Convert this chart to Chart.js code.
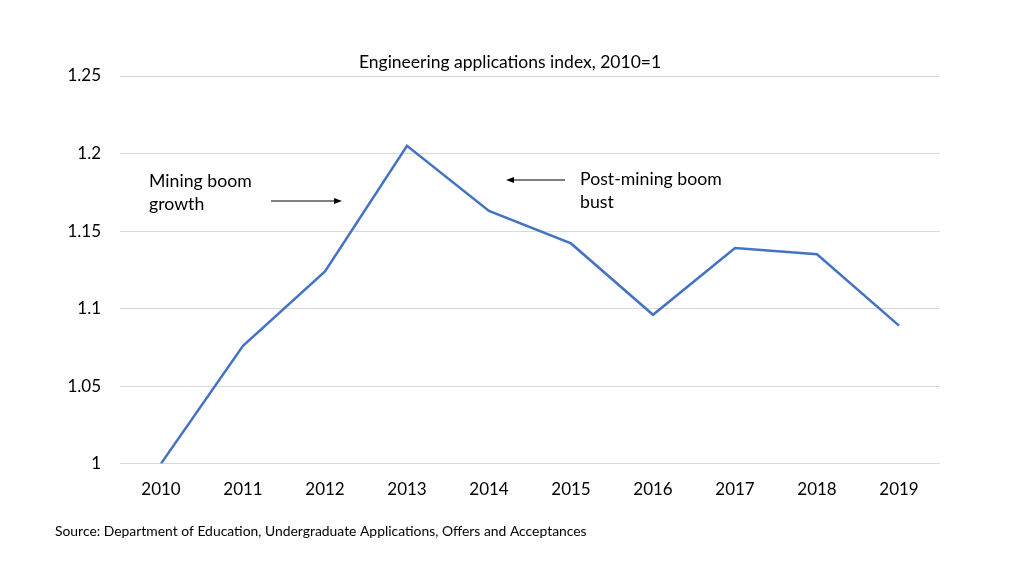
<!DOCTYPE html>
<html>
<head>
<meta charset="utf-8">
<script src="https://cdn.jsdelivr.net/npm/chart.js@4"></script>
<style>
  html, body { margin: 0; padding: 0; background: #fff; }
  #wrap { width: 1024px; height: 576px; }
</style>
</head>
<body>
<div id="wrap"><canvas id="myLineChart"></canvas></div>
<script>
var years = ['2010', '2011', '2012', '2013', '2014', '2015', '2016', '2017', '2018', '2019'];
var indexValues = [1.0, 1.076, 1.124, 1.205, 1.163, 1.142, 1.096, 1.139, 1.135, 1.089];
var yTicks = [1, 1.05, 1.1, 1.15, 1.2, 1.25];

var FONT = 'Lato, "Open Sans", sans-serif';

// title, annotations, arrows and source line
const notes = {
  id: 'notes',
  afterDraw(chart) {
    const { ctx } = chart;
    ctx.save();
    ctx.fillStyle = '#000';
    ctx.strokeStyle = '#000';
    ctx.textBaseline = 'middle';

    ctx.textAlign = 'center';
    ctx.font = '17.5px ' + FONT;
    ctx.fillText('Engineering applications index, 2010=1', 510, 62);

    ctx.textAlign = 'left';
    ctx.font = '17.7px ' + FONT;
    ctx.fillText('Mining boom', 149, 181);
    ctx.fillText('growth', 149, 204);
    ctx.fillText('Post-mining boom', 580, 179);
    ctx.fillText('bust', 580, 202);

    ctx.lineWidth = 1;
    // right arrow
    ctx.beginPath(); ctx.moveTo(271, 201); ctx.lineTo(336, 201); ctx.stroke();
    ctx.beginPath(); ctx.moveTo(342, 201); ctx.lineTo(334, 198); ctx.lineTo(334, 204); ctx.closePath(); ctx.fill();
    // left arrow
    ctx.beginPath(); ctx.moveTo(565, 180); ctx.lineTo(512, 180); ctx.stroke();
    ctx.beginPath(); ctx.moveTo(506, 180); ctx.lineTo(514, 177); ctx.lineTo(514, 183); ctx.closePath(); ctx.fill();

    ctx.font = '13.9px ' + FONT;
    ctx.fillText('Source: Department of Education, Undergraduate Applications, Offers and Acceptances', 55, 532);
    ctx.restore();
  }
};

var ctx = document.getElementById('myLineChart').getContext('2d');

var myLineChart = new Chart(ctx, {
  type: 'line',
  data: {
    labels: years,
    datasets: [{
      data: indexValues,
      borderColor: '#4472C4',
      borderWidth: 2.5,
      pointRadius: 0,
      tension: 0,
      fill: false
    }]
  },
  options: {
    responsive: true,
    maintainAspectRatio: false,
    animation: false,
    layout: { padding: { left: 0, right: 84, top: 76, bottom: 68 } },
    plugins: {
      legend: { display: false },
      tooltip: { enabled: false },
      title: { display: false }
    },
    scales: {
      x: {
        offset: true,
        grid: { display: false },
        border: { display: false },
        ticks: { color: '#000', font: { family: FONT, size: 17 }, padding: 8, maxRotation: 0 }
      },
      y: {
        min: 1,
        max: 1.25,
        afterFit(scale) { scale.width = 120; },
        afterBuildTicks(scale) { scale.ticks = yTicks.map(v => ({ value: v })); },
        grid: { color: '#d9d9d9', drawTicks: false },
        border: { display: false },
        ticks: {
          color: '#000',
          font: { family: FONT, size: 17 },
          padding: 19,
          callback: v => String(+v.toFixed(2))
        }
      }
    }
  },
  plugins: [notes]
});
</script>
</body>
</html>
